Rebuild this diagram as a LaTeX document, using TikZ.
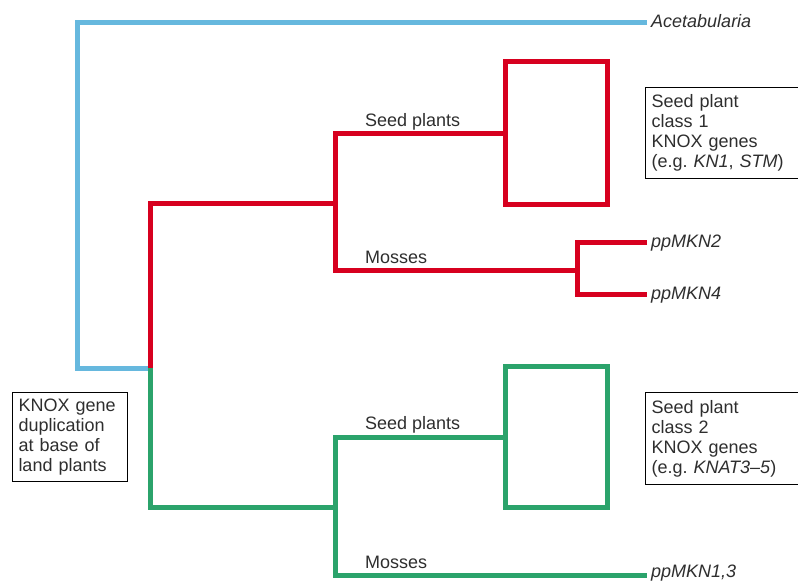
\documentclass[tikz,border=0pt]{standalone}
\usepackage{fontspec}
\setmainfont{Liberation Sans}
\usetikzlibrary{positioning}
\definecolor{algablue}{HTML}{66B8DE}
\definecolor{classred}{HTML}{D7001F}
\definecolor{classgreen}{HTML}{2BA36B}
\definecolor{labelgrey}{HTML}{2E2E2E}
\frenchspacing

\begin{document}
\begin{tikzpicture}[
    x=1pt, y=-1pt,
    branch/.style={line width=5pt, line join=miter},
    cladebox/.style={draw, line width=5pt, rectangle, minimum width=102pt, inner sep=0pt, outer sep=0pt},
    taxon/.style={anchor=west, font=\fontsize{18}{20}\selectfont\itshape, text=labelgrey, inner xsep=4pt, inner ysep=0pt, text height=11pt, text depth=0pt},
    grouplabel/.style={anchor=base west, font=\fontsize{18}{20}\selectfont, text=labelgrey, inner sep=0pt},
    infobox/.style={draw=black, line width=1pt, rectangle, anchor=north west, align=left, font=\fontsize{18}{20}\selectfont, text=labelgrey, inner xsep=6pt, inner ysep=0pt}
]
\useasboundingbox (0,0) rectangle (798,582);

% branch points
\coordinate (root) at (150,368);
\coordinate (basal) at (77,368);
\coordinate (redA) at (335,203);
\coordinate (redmoss) at (577,270);
\coordinate (greenA) at (335,507);

% taxa and clades
\node[taxon] (acet) at (647,22) {Acetabularia};
\node[cladebox, draw=classred, minimum height=143pt] (c1) at (556,133) {};
\node[taxon] (mkn2) at (647,242) {ppMKN2};
\node[taxon] (mkn4) at (647,294) {ppMKN4};
\node[cladebox, draw=classgreen, minimum height=141pt] (c2) at (556,437) {};
\node[taxon, text depth=6pt] (mkn13) at (647,575) {ppMKN1,3};

% text boxes
\node[infobox, text width=148pt, minimum height=91pt] (cls1) at (645,87) {Seed plant\\class 1\\KNOX genes\\(e.g. \textit{KN1}, \textit{STM})};
\node[infobox, text width=148pt, minimum height=92pt] (cls2) at (645,392) {Seed plant\\class 2\\KNOX genes\\(e.g. \textit{KNAT3–5})};
\node[infobox, text width=103pt, minimum height=89pt] (dup) at (12,392) {KNOX gene\\duplication\\at base of\\land plants};

% branches
\draw[branch, algablue] (acet.west) -| (basal) -- ([xshift=2.5pt]root);
\draw[branch, classred] (root) |- (redA);
\draw[branch, classred] (c1.west) -| (redA) |- (redmoss);
\draw[branch, classred] (mkn2.west) -| (redmoss) |- (mkn4.west);
\draw[branch, classgreen] (root) |- (greenA);
\draw[branch, classgreen] (c2.west) -| (greenA) |- (mkn13.west);

% group labels
\node[grouplabel] (rseed) at (365,126) {Seed plants};
\node[grouplabel] (rmoss) at (365,263) {Mosses};
\node[grouplabel] (gseed) at (365,429) {Seed plants};
\node[grouplabel] (gmoss) at (365,568) {Mosses};

\end{tikzpicture}
\end{document}
